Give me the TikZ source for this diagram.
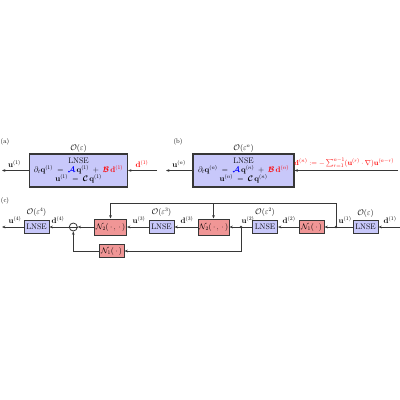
\documentclass[tikz,border=0pt]{standalone}
\usepackage{amsmath,amssymb,bm}
\usetikzlibrary{arrows.meta}
\definecolor{boxblue}{RGB}{200,200,250}
\definecolor{boxred}{RGB}{240,150,150}
\definecolor{linegray}{RGB}{55,55,55}
\begin{document}
\begin{tikzpicture}[x=1.5pt,y=-1.5pt,
  conn/.style={line width=1.3pt, draw=linegray},
  arr/.style={conn,-{Stealth[length=5pt,width=4pt]}},
  bigbox/.style={draw=linegray,line width=1.6pt,fill=boxblue,minimum height=49.5pt,align=center,inner sep=2pt,font=\large},
  lbox/.style={draw=linegray,line width=1.5pt,fill=boxblue,minimum width=37.5pt,minimum height=18.75pt,inner sep=1pt,font=\large},
  nbox/.style={draw=linegray,line width=1.5pt,fill=boxred,minimum height=19.5pt,inner sep=1pt,font=\large},
  lab/.style={inner sep=0.5pt,font=\large},
  tag/.style={inner sep=0pt,font=\normalsize},
  dot/.style={circle,fill=linegray,inner sep=0pt,minimum size=4pt}
]
\useasboundingbox (0,0) rectangle (400,400);

% ---------- (a)
\node[tag] (ta) at (5,142) {(a)};
\node[bigbox,minimum width=147pt] (A) at (78.5,170.5)
  {LNSE\\
   $\partial_t\mathbf{q}^{(1)} \;=\; {\color{blue}\bm{\mathcal{A}}}\,\mathbf{q}^{(1)} \;+\; {\color{red}\bm{\mathcal{B}}\,\mathbf{d}^{(1)}}$\\
   $\mathbf{u}^{(1)} \;=\; \bm{\mathcal{C}}\,\mathbf{q}^{(1)}$};
\node[lab] (Oa) at (78.5,148) {$\mathcal{O}(\varepsilon)$};
\coordinate (aout) at (2,170.5);
\coordinate (ain) at (157,170.5);
\draw[arr] (A.west) -- (aout);
\draw[arr] (ain) -- (A.east);
\node[lab] (ua) at (14.5,164) {$\mathbf{u}^{(1)}$};
\node[lab,text=red] (da) at (142,164) {$\mathbf{d}^{(1)}$};

% ---------- (b)
\node[tag] (tb) at (178,142) {(b)};
\node[bigbox,minimum width=151.5pt] (B) at (243.5,170.5)
  {LNSE\\
   $\partial_t\mathbf{q}^{(n)} \;=\; {\color{blue}\bm{\mathcal{A}}}\,\mathbf{q}^{(n)} \;+\; {\color{red}\bm{\mathcal{B}}\,\mathbf{d}^{(n)}}$\\
   $\mathbf{u}^{(n)} \;=\; \bm{\mathcal{C}}\,\mathbf{q}^{(n)}$};
\node[lab] (Ob) at (243.5,148) {$\mathcal{O}(\varepsilon^n)$};
\coordinate (bout) at (166,170.5);
\coordinate (bin) at (398,170.5);
\draw[arr] (B.west) -- (bout);
\draw[arr] (bin) -- (B.east);
\node[lab] (ub) at (179,164) {$\mathbf{u}^{(n)}$};
\node[lab,text=red,anchor=west,font=\fontsize{11}{13}\selectfont] (db) at (294,163)
  {$\mathbf{d}^{(n)} := -\sum_{r=1}^{n-1}(\mathbf{u}^{(r)}\cdot\nabla)\mathbf{u}^{(n-r)}$};

% ---------- (c)
\node[tag] (tc) at (5,201) {(c)};
\node[lbox] (L4) at (36.5,227) {LNSE};
\node[lbox] (L3) at (161.5,227) {LNSE};
\node[lbox] (L2) at (265,227) {LNSE};
\node[lbox] (L1) at (365.5,227) {LNSE};
\node[nbox,minimum width=48pt,minimum height=24pt] (N2a) at (110.5,227) {$\mathcal{N}_2(\,\cdot\,,\,\cdot\,)$};
\node[nbox,minimum width=46.5pt,minimum height=24pt] (N2b) at (213.5,227) {$\mathcal{N}_2(\,\cdot\,,\,\cdot\,)$};
\node[nbox,minimum width=37.5pt] (N1a) at (111.5,251) {$\mathcal{N}_1(\,\cdot\,)$};
\node[nbox,minimum width=37.5pt] (N1b) at (311.5,227) {$\mathcal{N}_1(\,\cdot\,)$};
\node[circle,draw=linegray,line width=1.2pt,minimum size=12pt,inner sep=0pt] (S) at (73.3,227) {};
\draw[conn] (S.west) -- (S.east);
\node[dot] (J1) at (336,227) {};
\node[dot] (J2) at (241,227) {};

\node[lab] (O1) at (365.5,213) {$\mathcal{O}(\varepsilon)$};
\node[lab] (O2) at (265,212.5) {$\mathcal{O}(\varepsilon^2)$};
\node[lab] (O3) at (161.5,212.5) {$\mathcal{O}(\varepsilon^3)$};
\node[lab] (O4) at (36.5,212.5) {$\mathcal{O}(\varepsilon^4)$};

\coordinate (cin) at (400,227);
\coordinate (cout) at (2,227);
\coordinate (t1) at (336,203);
\coordinate (t2) at (110.5,203);
\coordinate (t3) at (213.5,203);
\coordinate (b1) at (241,251);
\coordinate (b2) at (73.3,251);

\draw[arr] (cin) -- (L1.east);
\draw[arr] (L1.west) -- (N1b.east);
\draw[arr] (N1b.west) -- (L2.east);
\draw[arr] (L2.west) -- (N2b.east);
\draw[arr] (N2b.west) -- (L3.east);
\draw[arr] (L3.west) -- (N2a.east);
\draw[arr] (N2a.west) -- (S.east);
\draw[arr] (S.west) -- (L4.east);
\draw[arr] (L4.west) -- (cout);
\draw[arr] (J1.center) -- (t1) -- (t2) -- (N2a.north);
\draw[arr] (t3) -- (N2b.north);
\draw[arr] (J2.center) -- (b1) -- (N1a.east);
\draw[arr] (N1a.west) -- (b2) -- (S.south);

\node[lab] (lu1) at (345,220) {$\mathbf{u}^{(1)}$};
\node[lab] (ld1) at (390,220) {$\mathbf{d}^{(1)}$};
\node[lab] (ld2) at (289,220) {$\mathbf{d}^{(2)}$};
\node[lab] (lu2) at (248,220) {$\mathbf{u}^{(2)}$};
\node[lab] (ld3) at (187,220) {$\mathbf{d}^{(3)}$};
\node[lab] (lu3) at (139,220) {$\mathbf{u}^{(3)}$};
\node[lab] (ld4) at (58,220) {$\mathbf{d}^{(4)}$};
\node[lab] (lu4) at (15,220) {$\mathbf{u}^{(4)}$};
\end{tikzpicture}
\end{document}
